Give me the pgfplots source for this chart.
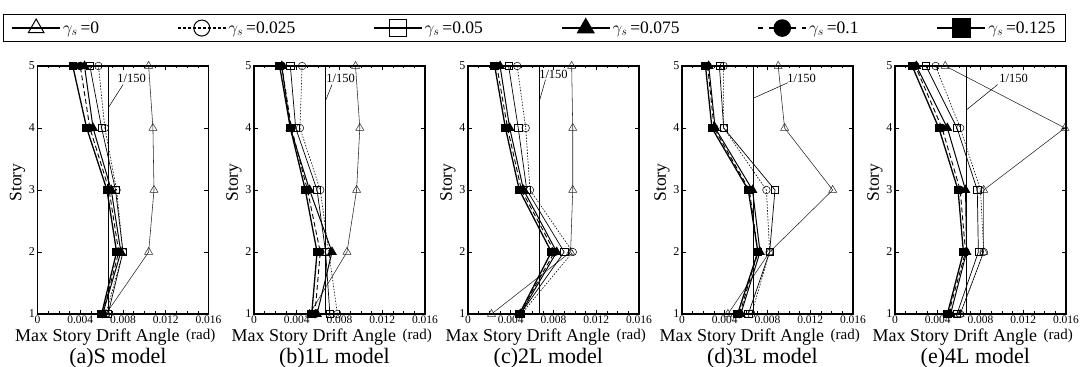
\documentclass[border=0pt]{standalone}
\usepackage{pgfplots}
\pgfplotsset{compat=1.18}
\usepackage{pgfplotstable}
\usepackage{fontspec}
\setmainfont{Liberation Serif}

% story, gamma_s = 0, 0.025, 0.05, 0.075, 0.1, 0.125
\pgfplotstableread{
story g0 g025 g05 g075 g1 g125
1 0.0064 0.0064 0.0066 0.0061 0.0061 0.0060
2 0.0104 0.0080 0.0080 0.0078 0.0076 0.0074
3 0.0109 0.0074 0.0073 0.0069 0.0067 0.0065
4 0.0108 0.0063 0.0060 0.0052 0.0049 0.0046
5 0.0104 0.0057 0.0049 0.0044 0.0040 0.0033
}\dataA
\pgfplotstableread{
story g0 g025 g05 g075 g1 g125
1 0.0052 0.0078 0.0071 0.0059 0.0057 0.0054
2 0.0087 0.0070 0.0067 0.0073 0.0062 0.0059
3 0.0096 0.0062 0.0059 0.0052 0.0050 0.0048
4 0.0099 0.0043 0.0039 0.0034 0.0035 0.0034
5 0.0095 0.0045 0.0034 0.0026 0.0026 0.0024
}\dataB
\pgfplotstableread{
story g0 g025 g05 g075 g1 g125
1 0.0022 0.0050 0.0049 0.0049 0.0048 0.0048
2 0.0096 0.0098 0.0090 0.0083 0.0081 0.0078
3 0.0098 0.0058 0.0055 0.0052 0.0050 0.0048
4 0.0098 0.0054 0.0047 0.0039 0.0037 0.0035
5 0.0097 0.0046 0.0038 0.0030 0.0027 0.0025
}\dataC
\pgfplotstableread{
story g0 g025 g05 g075 g1 g125
1 0.0043 0.0065 0.0062 0.0055 0.0054 0.0052
2 0.0082 0.0082 0.0082 0.0073 0.0071 0.0071
3 0.0141 0.0079 0.0087 0.0066 0.0063 0.0062
4 0.0096 0.0039 0.0039 0.0031 0.0030 0.0028
5 0.0090 0.0039 0.0035 0.0025 0.0024 0.0022
}\dataD
\pgfplotstableread{
story g0 g025 g05 g075 g1 g125
1 0.0061 0.0061 0.0058 0.0052 0.0050 0.0049
2 0.0083 0.0083 0.0078 0.0067 0.0066 0.0064
3 0.0083 0.0080 0.0077 0.0066 0.0061 0.0059
4 0.0159 0.0061 0.0058 0.0049 0.0044 0.0041
5 0.0047 0.0038 0.0029 0.0020 0.0019 0.0016
}\dataE

\pgfplotsset{
  sA/.style={black!85, line width=0.55pt, mark=triangle, mark size=4.6pt, mark options={solid, fill=white, line width=0.5pt}},
  sB/.style={black, line width=0.6pt, dash pattern=on 1.5pt off 1.5pt, mark=o, mark size=3.8pt, mark options={solid, fill=white, line width=0.5pt}},
  sC/.style={black, line width=0.7pt, mark=square, mark size=3.6pt, mark options={solid, fill=white, line width=0.5pt}},
  sD/.style={black, line width=1pt, mark=triangle*, mark size=4.6pt, mark options={solid}},
  sE/.style={black, line width=0.9pt, dash pattern=on 5pt off 3pt, mark=*, mark size=3.8pt, mark options={solid}},
  sF/.style={black, line width=1.3pt, mark=square*, mark size=3.6pt, mark options={solid}},
  panel/.style={
    scale only axis, width=171pt, height=248pt, anchor=south west,
    xmin=0, xmax=0.016, ymin=1, ymax=5, clip=false,
    scaled x ticks=false, scaled y ticks=false,
    xtick={0,0.004,0.008,0.012,0.016},
    xticklabels={0,0.004,0.008,0.012,0.016},
    minor x tick num=3,
    ytick={1,2,3,4,5}, yticklabels={1,2,3,4,5},
    tick align=inside, major tick length=4pt, minor tick length=2.5pt,
    every tick/.style={black, line width=0.6pt},
    axis line style={line width=1.1pt},
    xticklabel style={font=\fontsize{11.5}{13}\selectfont, inner sep=1.5pt},
    yticklabel style={font=\fontsize{12}{13}\selectfont, inner sep=2.5pt},
    xlabel={Max Story Drift Angle},
    xlabel style={font=\fontsize{18}{20}\selectfont, at={(axis description cs:0.35,-0.093)}, anchor=center, inner sep=0pt},
    ylabel={Story},
    ylabel style={font=\fontsize{17.5}{20}\selectfont, at={(axis description cs:-0.117,0.53)}, anchor=center, inner sep=0pt},
  },
}

\newcommand{\series}[1]{%
  \addplot[sA, forget plot] table[x=g0, y=story]{#1};
  \addplot[sB, forget plot] table[x=g025, y=story]{#1};
  \addplot[sC, forget plot] table[x=g05, y=story]{#1};
  \addplot[sD, forget plot] table[x=g075, y=story]{#1};
  \addplot[sE, forget plot] table[x=g1, y=story]{#1};
  \addplot[sF, forget plot] table[x=g125, y=story]{#1};
  \addplot[black, line width=0.7pt, forget plot] coordinates {(0.0066667,1) (0.0066667,5)};
}
\newcommand{\paneltitle}[1]{%
  \node[font=\fontsize{15}{17}\selectfont, anchor=center, inner sep=0pt] at (axis description cs:0.955,-0.087) {(rad)};
  \node[font=\fontsize{22}{24}\selectfont, anchor=center, inner sep=0pt] at (axis description cs:0.47,-0.177) {#1};
}

\begin{document}
\begin{tikzpicture}
\useasboundingbox (0,0) rectangle (1080pt,367pt);

% (a)
\begin{axis}[panel, at={(37.5pt,53pt)},
  legend columns=6,
  legend image code/.code={\draw[mark repeat=2, mark phase=2, #1] plot coordinates {(0pt,0pt) (24pt,0pt) (48pt,0pt)};},
  legend style={at={(axis description cs:2.906,1.153)}, anchor=center, draw=black, line width=1.2pt,
    fill=white, font=\fontsize{17.5}{20}\selectfont, inner xsep=8pt, inner ysep=4.5pt,
    /tikz/every even column/.append style={column sep=76pt}},
]
  \addlegendimage{black, line width=1.3pt, mark=triangle, mark size=9pt, mark options={solid, fill=white, line width=1pt}}
  \addlegendentry{$\gamma_{s}$\,=0}
  \addlegendimage{black, line width=1.3pt, dash pattern=on 3pt off 2pt, mark=o, mark size=8pt, mark options={solid, fill=white, line width=1pt}}
  \addlegendentry{$\gamma_{s}$\,=0.025}
  \addlegendimage{black, line width=1.3pt, mark=square, mark size=8.5pt, mark options={solid, fill=white, line width=1pt}}
  \addlegendentry{$\gamma_{s}$\,=0.05}
  \addlegendimage{black, line width=1.6pt, mark=triangle*, mark size=9pt, mark options={solid}}
  \addlegendentry{$\gamma_{s}$\,=0.075}
  \addlegendimage{black, line width=1.6pt, dash pattern=on 5pt off 6pt, mark=*, mark size=8pt, mark options={solid}}
  \addlegendentry{$\gamma_{s}$\,=0.1}
  \addlegendimage{black, line width=1.8pt, mark=square*, mark size=9pt, mark options={solid}}
  \addlegendentry{$\gamma_{s}$\,=0.125}
  \series{\dataA}
  \draw[line width=0.5pt] (axis cs:0.0080,4.70) -- (axis cs:0.00667,4.34);
  \node[font=\fontsize{12.5}{14}\selectfont] at (axis cs:0.0088,4.80) {1/150};
  \paneltitle{(a)S model}
\end{axis}

% (b)
\begin{axis}[panel, at={(254pt,53pt)}]
  \series{\dataB}
  \draw[line width=0.5pt] (axis cs:0.0073,4.70) -- (axis cs:0.00667,4.43);
  \node[font=\fontsize{12.5}{14}\selectfont] at (axis cs:0.0081,4.80) {1/150};
  \paneltitle{(b)1L model}
\end{axis}

% (c)
\begin{axis}[panel, at={(468pt,53pt)}]
  \series{\dataC}
  \draw[line width=0.5pt] (axis cs:0.00725,4.78) -- (axis cs:0.00667,4.43);
  \node[font=\fontsize{12.5}{14}\selectfont] at (axis cs:0.0080,4.86) {1/150};
  \paneltitle{(c)2L model}
\end{axis}

% (d)
\begin{axis}[panel, at={(682pt,53pt)}]
  \series{\dataD}
  \draw[line width=0.5pt] (axis cs:0.0099,4.73) -- (axis cs:0.00667,4.48);
  \node[font=\fontsize{12.5}{14}\selectfont] at (axis cs:0.0112,4.80) {1/150};
  \paneltitle{(d)3L model}
\end{axis}

% (e)
\begin{axis}[panel, at={(895pt,53pt)}]
  \series{\dataE}
  \draw[line width=0.5pt] (axis cs:0.0096,4.70) -- (axis cs:0.00667,4.29);
  \node[font=\fontsize{12.5}{14}\selectfont] at (axis cs:0.0111,4.80) {1/150};
  \paneltitle{(e)4L model}
\end{axis}
\end{tikzpicture}
\end{document}
